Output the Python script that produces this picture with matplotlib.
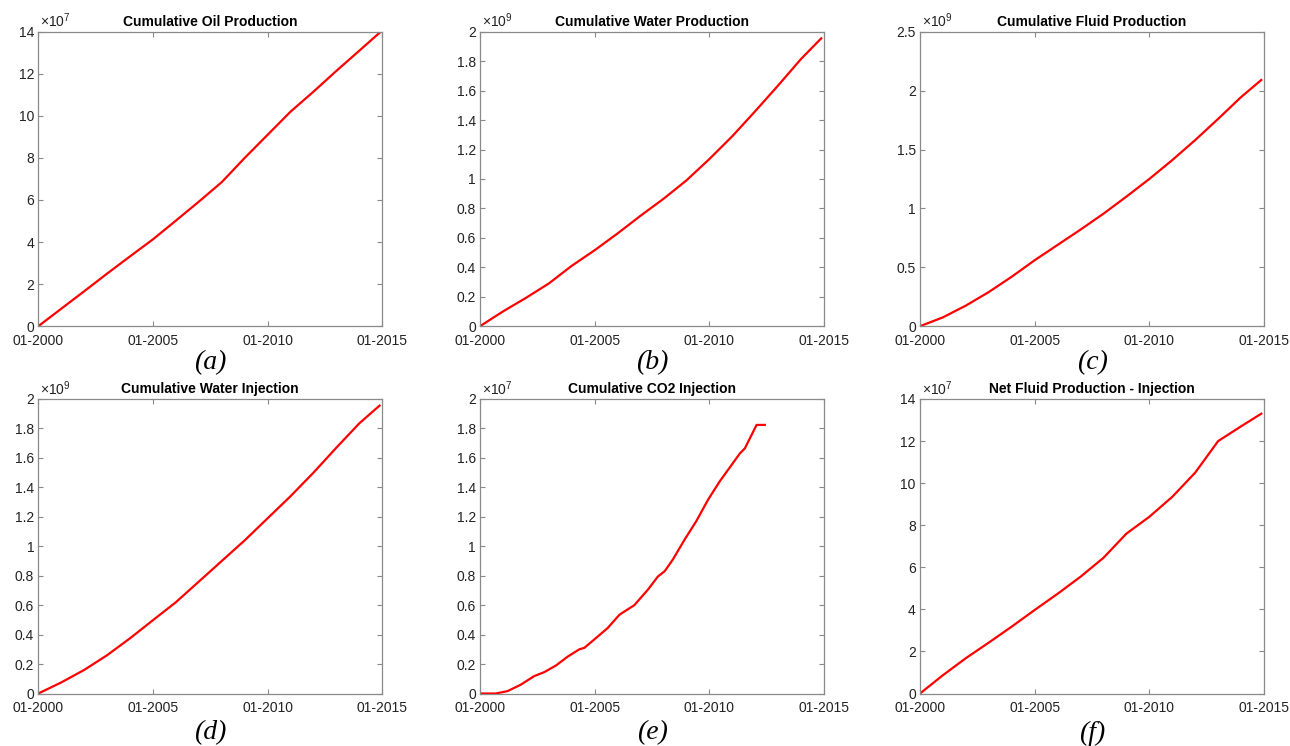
import matplotlib
matplotlib.use("Agg")
import matplotlib.pyplot as plt
from matplotlib.ticker import FixedLocator, FuncFormatter

plt.rcParams['font.family'] = ['Liberation Sans', 'DejaVu Sans']
plt.rcParams['mathtext.default'] = 'regular'

# years since 01-2000, values in the units shown on each axis (x1e7 or x1e9)
t_yearly = [0, 1, 2, 3, 4, 5, 6, 7, 8, 9, 10, 11, 12, 13, 14, 14.88]

oil_prod = [0, 0.83, 1.66, 2.50, 3.32, 4.13, 5.02, 5.92, 6.85, 8.00, 9.10, 10.2, 11.15, 12.14, 13.1, 13.95]
water_prod = [0, 0.10, 0.192, 0.29, 0.41, 0.516, 0.63, 0.75, 0.865, 0.99, 1.135, 1.29, 1.46, 1.635, 1.815, 1.955]
fluid_prod = [0, 0.075, 0.175, 0.29, 0.42, 0.56, 0.69, 0.82, 0.955, 1.10, 1.25, 1.41, 1.58, 1.76, 1.945, 2.09]
water_inj = [0, 0.075, 0.16, 0.26, 0.375, 0.498, 0.62, 0.76, 0.90, 1.04, 1.19, 1.34, 1.50, 1.67, 1.835, 1.955]
net_fluid = [0, 0.87, 1.68, 2.42, 3.18, 3.97, 4.74, 5.55, 6.45, 7.60, 8.40, 9.35, 10.5, 12.0, 12.7, 13.3]

t_co2 = [0, 0.69, 1.2, 1.78, 2.36, 2.8, 3.31, 3.82, 4.33, 4.55, 5.06, 5.57, 6.08, 6.73,
         7.32, 7.76, 8.05, 8.41, 8.92, 9.43, 9.94, 10.45, 10.96, 11.33, 11.55, 12.06, 12.42]
co2_inj = [0, 0, 0.016, 0.06, 0.118, 0.145, 0.19, 0.25, 0.30, 0.31, 0.377, 0.445, 0.535, 0.60,
           0.705, 0.795, 0.83, 0.91, 1.045, 1.17, 1.315, 1.44, 1.55, 1.63, 1.665, 1.824, 1.824]

panels = [
    ("Cumulative Oil Production", t_yearly, oil_prod, 7, [0, 2, 4, 6, 8, 10, 12, 14], "(a)"),
    ("Cumulative Water Production", t_yearly, water_prod, 9, [0, 0.2, 0.4, 0.6, 0.8, 1, 1.2, 1.4, 1.6, 1.8, 2], "(b)"),
    ("Cumulative Fluid Production", t_yearly, fluid_prod, 9, [0, 0.5, 1, 1.5, 2, 2.5], "(c)"),
    ("Cumulative Water Injection", t_yearly, water_inj, 9, [0, 0.2, 0.4, 0.6, 0.8, 1, 1.2, 1.4, 1.6, 1.8, 2], "(d)"),
    ("Cumulative CO2 Injection", t_co2, co2_inj, 7, [0, 0.2, 0.4, 0.6, 0.8, 1, 1.2, 1.4, 1.6, 1.8, 2], "(e)"),
    ("Net Fluid Production - Injection", t_yearly, net_fluid, 7, [0, 2, 4, 6, 8, 10, 12, 14], "(f)"),
]

x_ticks = [2000, 2005, 2010, 2015]
x_labels = ["01-2000", "01-2005", "01-2010", "01-2015"]

W, H = 1290, 746
fig = plt.figure(figsize=(W / 100, H / 100), dpi=100)

lefts = [38.3, 480, 920]
tops = [31.7, 399]
aw, ah = 344, 294.5
label_y = [363, 733]
grey = '#8a8a8a'

for i, (title, t, vals, exp, yt, lab) in enumerate(panels):
    r, c = divmod(i, 3)
    ax = fig.add_axes([lefts[c] / W, 1 - (tops[r] + ah) / H, aw / W, ah / H])
    scale = 10 ** exp
    ax.plot([2000 + v for v in t], [v * scale for v in vals], color='#ff0000', lw=1.6)
    ax.set_xlim(2000, 2015)
    ax.set_ylim(0, yt[-1] * scale)
    ax.xaxis.set_major_locator(FixedLocator(x_ticks))
    ax.set_xticklabels(x_labels)
    ax.yaxis.set_major_locator(FixedLocator([v * scale for v in yt]))
    ax.yaxis.set_major_formatter(FuncFormatter(lambda v, _, s=scale: f"{v / s:g}"))
    ax.tick_params(direction='in', top=True, right=True, length=3.5, width=0.8,
                   color=grey, labelsize=10, labelcolor='#222222', pad=3)
    ax.tick_params(axis='x', pad=5.5)
    for sp in ax.spines.values():
        sp.set_color(grey)
        sp.set_linewidth(0.9)
    ax.set_title(title, fontsize=10, fontweight='bold', pad=4)
    ax.text(0.005, 1.005, r"×10$^{%d}$" % exp, transform=ax.transAxes,
            ha='left', va='bottom', fontsize=10, color='#222222')
    fig.text((lefts[c] + aw / 2) / W, 1 - label_y[r] / H, lab, ha='center', va='center',
             fontsize=20, family='Liberation Serif', style='italic')

fig.savefig('out.png', dpi=100)
